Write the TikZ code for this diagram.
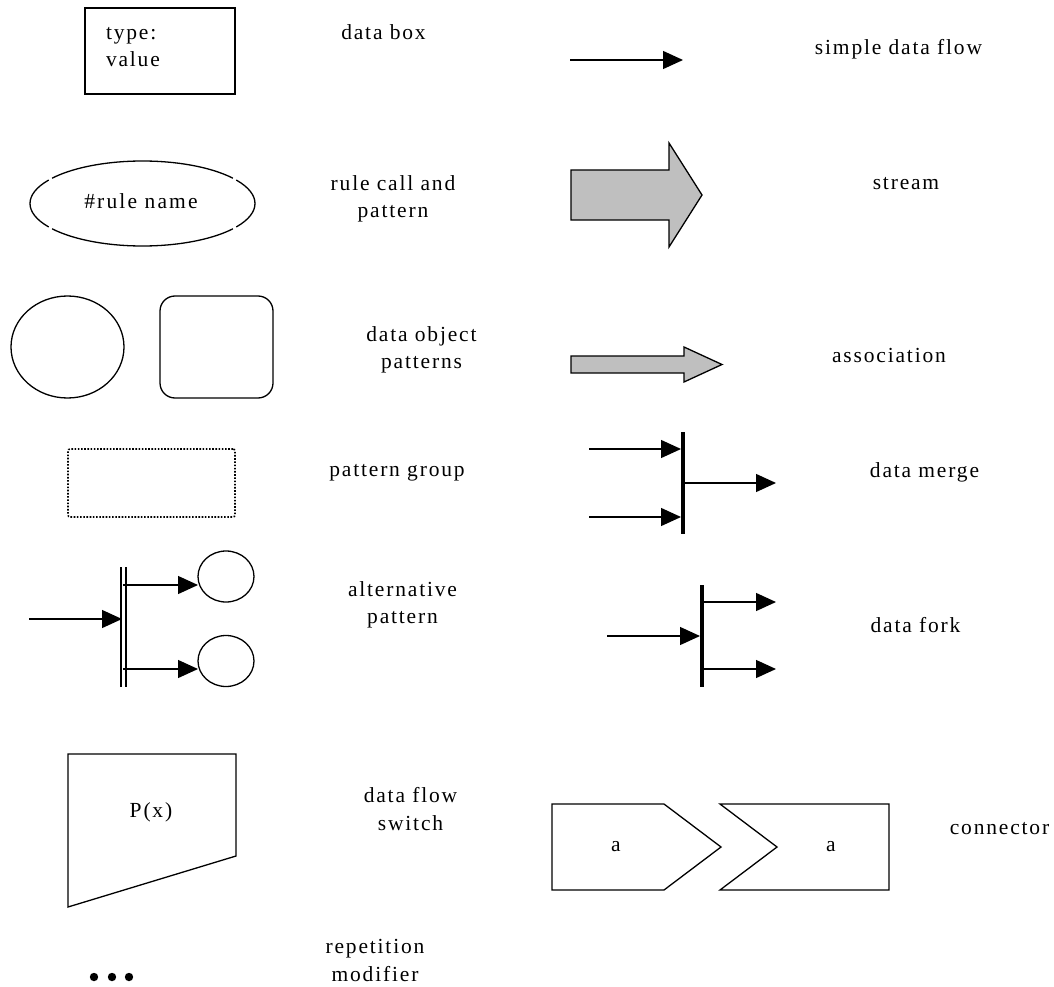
\documentclass[tikz,border=0pt]{standalone}
\usepackage{fontspec}
\setmainfont[LetterSpace=8.5]{Liberation Serif}
\usetikzlibrary{arrows.meta,shapes.geometric,calc}
\tikzset{
  every node/.style={inner sep=0pt,outer sep=0pt},
  lab/.style={align=center,font=\fontsize{21.5}{27.5}\selectfont},
  ln/.style={draw=black,line width=1.3pt},
  flow/.style={ln,-{Triangle[length=20pt,width=18pt]},shorten >=0pt},
  bar/.style={line width=4pt,draw=black},
  thinbar/.style={line width=2pt,draw=black},
  grayshape/.style={ln,fill=black!25,line join=miter},
}
\begin{document}
\begin{tikzpicture}[x=1pt,y=-1pt]
\useasboundingbox (0,0) rectangle (1054,987);
% data box
\node[ln,draw,minimum width=150pt,minimum height=86pt] (box) at (160,51) {};
\node[lab,align=left,anchor=west] (boxt) at (106,47) {type:\\value};
\node[lab] (l1) at (383.5,32) {data box};
% rule call
\node[ellipse,minimum width=225pt,minimum height=85pt,lab] (rule) at (142.5,203.5) {};
\node[lab] (rulet) at (141,201) {\addfontfeature{LetterSpace=10}\#rule name};
\foreach \a/\b in {-33.5/33.5,36.5/143.5,146.5/213.5,216.5/323.5}{
  \draw[ln] (rule.center) ++(\a:112.5pt and 42.5pt) arc[start angle=\a,end angle=\b,x radius=112.5pt,y radius=42.5pt];
}
\node[lab] (l2) at (393,199) {rule call and\\pattern};
% data object patterns
\node[ellipse,draw=black,line width=1.3pt,minimum width=113pt,minimum height=102pt] (obj) at (67.5,347) {};
\node[draw=black,line width=1.3pt,rounded corners=15pt,minimum width=113pt,minimum height=102pt] (objr) at (216.5,347) {};
\node[lab] (l3) at (421.5,350) {data object\\patterns};
% pattern group
\node[draw=black,line width=1.6pt,dash pattern=on 1.6pt off 1.6pt,rounded corners=2pt,minimum width=167pt,minimum height=68pt] (grp) at (151.5,483) {};
\node[lab] (l4) at (397,473) {pattern group};
% alternative
\coordinate (aT1) at (121,567); \coordinate (aB1) at (121,687);
\coordinate (aT2) at (126,567); \coordinate (aB2) at (126,687);
\draw[thinbar] (aT1) -- (aB1);
\draw[thinbar] (aT2) -- (aB2);
\node[ellipse,draw=black,line width=1.3pt,minimum width=56pt,minimum height=51pt] (c1) at (226,576.5) {};
\node[ellipse,draw=black,line width=1.3pt,minimum width=56pt,minimum height=51pt] (c2) at (226,661) {};
\coordinate (aIn) at (29,619); \coordinate (aInE) at (122,619);
\coordinate (aO1) at (123,585); \coordinate (aO1E) at (198,585);
\coordinate (aO2) at (123,669); \coordinate (aO2E) at (198,669);
\draw[flow] (aIn) -- (aInE);
\draw[flow] (aO1) -- (aO1E);
\draw[flow] (aO2) -- (aO2E);
\node[lab] (l5) at (402.5,605) {alternative\\pattern};
% switch
\node[lab] (px) at (151,812) {P(x)};
\draw[ln,line join=miter] (68,754) -- (236,754) -- (236,856) -- (68,907) -- cycle;
\node[lab] (l6) at (410.5,809) {data flow\\switch};
% repetition
\foreach \x in {94,112,129}{ \fill (\x,977) circle (4.2pt); }
\node[lab] (l7) at (375,960.5) {repetition\\modifier};
% simple flow
\coordinate (sA) at (570,60); \coordinate (sB) at (683,60);
\draw[flow] (sA) -- (sB);
\node[lab] (r1) at (898.5,49) {simple data flow};
% stream
\draw[grayshape] (571,170) -- (669,170) -- (669,143) -- (702,195) -- (669,247) -- (669,220) -- (571,220) -- cycle;
\node[lab] (r2) at (906,184) {stream};
% association
\draw[grayshape] (571,356) -- (684,356) -- (684,347) -- (722,364.5) -- (684,382) -- (684,373) -- (571,373) -- cycle;
\node[lab] (r3) at (889,355) {association};
% merge
\coordinate (mT) at (682.5,432); \coordinate (mB) at (682.5,534);
\draw[bar] (mT) -- (mB);
\coordinate (m1) at (589,449); \coordinate (m1E) at (681,449);
\coordinate (m2) at (589,517); \coordinate (m2E) at (681,517);
\coordinate (m3) at (683,483); \coordinate (m3E) at (776,483);
\draw[flow] (m1) -- (m1E);
\draw[flow] (m2) -- (m2E);
\draw[flow] (m3) -- (m3E);
\node[lab] (r4) at (924.5,472) {data merge};
% fork
\coordinate (fT) at (702,585); \coordinate (fB) at (702,687);
\draw[bar] (fT) -- (fB);
\coordinate (f1) at (607,636); \coordinate (f1E) at (700,636);
\coordinate (f2) at (703,602); \coordinate (f2E) at (776,602);
\coordinate (f3) at (703,669); \coordinate (f3E) at (776,669);
\draw[flow] (f1) -- (f1E);
\draw[flow] (f2) -- (f2E);
\draw[flow] (f3) -- (f3E);
\node[lab] (r5) at (915.5,625) {data fork};
% connector
\draw[ln,line join=miter] (552,804) -- (664,804) -- (721,847) -- (664,890) -- (552,890) -- cycle;
\draw[ln,line join=miter] (720,804) -- (889,804) -- (889,890) -- (720,890) -- (777,847) -- cycle;
\node[lab] (ca) at (616,847) {a};
\node[lab] (cb) at (831,847) {a};
\node[lab] (r6) at (999.5,829) {connector};
\end{tikzpicture}
\end{document}
